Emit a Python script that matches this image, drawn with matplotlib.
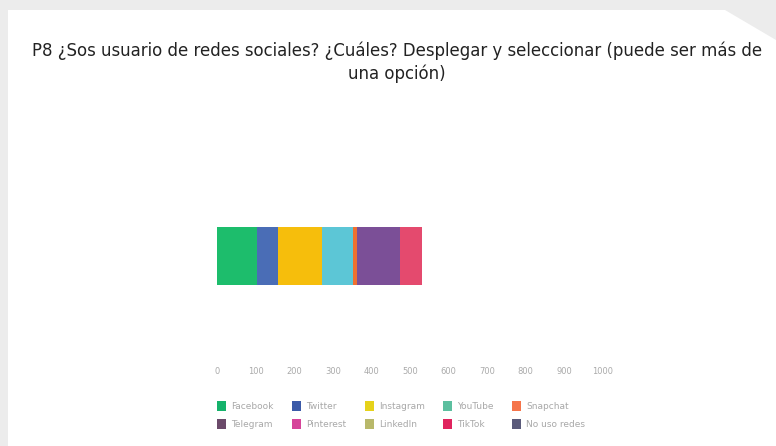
import matplotlib
matplotlib.use("Agg")
from matplotlib import pyplot as plt
from matplotlib.patches import Polygon, Patch

# data
redes = ["Facebook", "Twitter", "Instagram", "YouTube", "Snapchat",
         "Telegram", "Pinterest", "LinkedIn", "TikTok", "No uso redes"]
valores = [104, 55, 114, 80, 10, 112, 0, 0, 57, 0]
colores_barra = ["#1dbd6c", "#4a6db6", "#f6be0c", "#5cc6d6", "#f0702e",
                 "#7b4f97", "#d6449a", "#b8b86a", "#e44a6e", "#5a5a7a"]
colores_leyenda = ["#15b26b", "#3b5aa8", "#e6d21a", "#5cbf9f", "#f5744a",
                   "#6b4a6a", "#d6449a", "#b8b86a", "#e0245e", "#5a5a7a"]
ticks = [0, 100, 200, 300, 400, 500, 600, 700, 800, 900, 1000]
titulo = ("P8 \u00bfSos usuario de redes sociales? \u00bfCu\u00e1les? Desplegar y "
          "seleccionar (puede ser m\u00e1s de\nuna opci\u00f3n)")

fig = plt.figure(figsize=(7.76, 4.46), dpi=100)
fig.patch.set_facecolor("#ececec")

# white card behind the chart
W, H = 776, 446
card = [(8, 10), (725, 10), (776, 40), (776, 446), (8, 446)]
fig.patches.append(Polygon([(x / W, 1 - y / H) for x, y in card], closed=True,
                           transform=fig.transFigure, facecolor="white",
                           edgecolor="none", zorder=-5))

fig.text(397 / W, 1 - 62 / H, titulo, ha="center", va="center", fontsize=13.2,
         color="#222222", linespacing=1.3, family="DejaVu Sans",
         fontstretch="condensed")

ax = fig.add_axes([217 / W, 1 - 355 / H, 386 / W, 185 / H], zorder=2)
ax.set_facecolor("none")
izq = 0
for v, c in zip(valores, colores_barra):
    ax.barh(0.535, v, left=izq, height=0.31, color=c)
    izq += v
ax.set_xlim(0, 1000)
ax.set_ylim(0, 1)
ax.set_xticks(ticks)
ax.set_xticklabels([str(t) for t in ticks], fontsize=6, color="#aaaaaa")
ax.set_yticks([])
ax.tick_params(length=0, pad=9)
for s in ax.spines.values():
    s.set_visible(False)

# matplotlib fills legend columns first; reorder so rows read left to right
orden = [0, 5, 1, 6, 2, 7, 3, 8, 4, 9]
handles = [Patch(facecolor=colores_leyenda[i]) for i in orden]
etiquetas = [redes[i] for i in orden]
fig.legend(handles, etiquetas, ncol=5, loc="upper left",
           bbox_to_anchor=(209 / W, 1 - 393 / H), frameon=False,
           fontsize=6.5, labelcolor="#a8a8a8", handlelength=1.0,
           handleheight=1.3, columnspacing=2.0, handletextpad=0.6,
           labelspacing=0.85)

fig.savefig("out.png", dpi=100, facecolor=fig.get_facecolor())
